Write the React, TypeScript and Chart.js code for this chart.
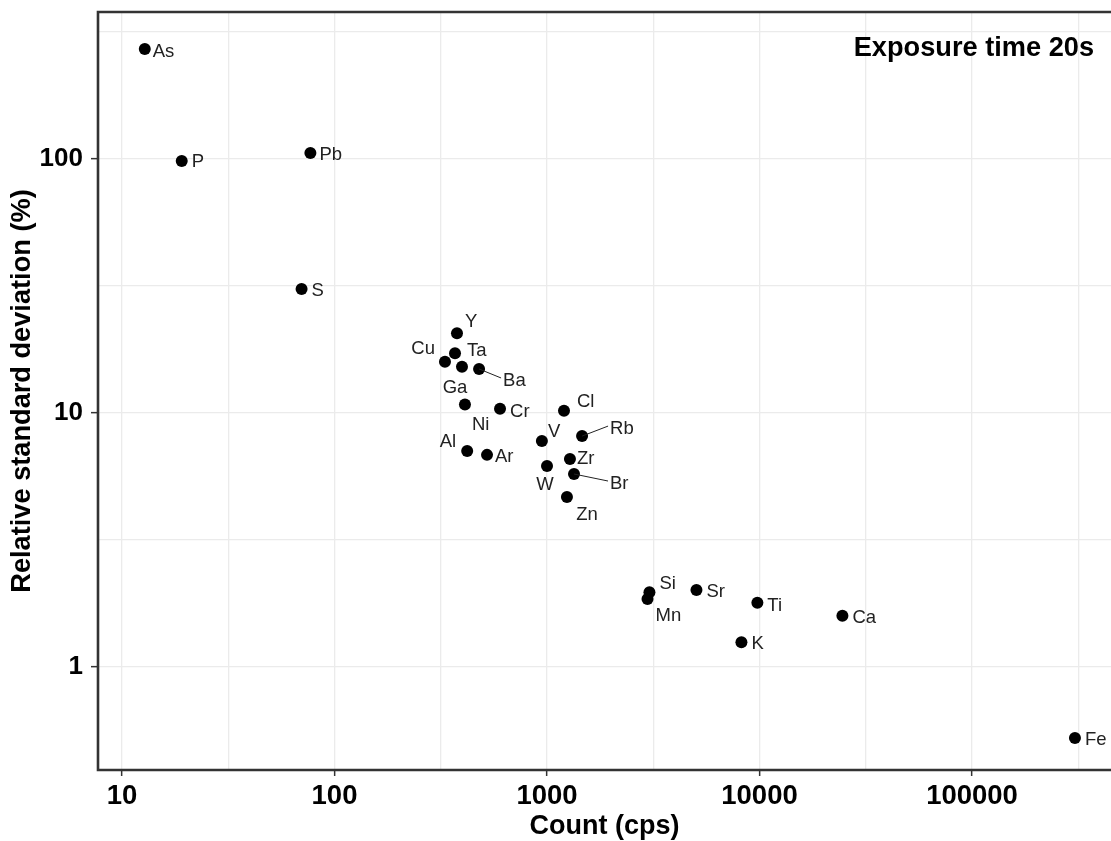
import React, { useEffect, useRef } from 'react';
import { Chart, registerables } from 'chart.js';

Chart.register(...registerables);

const elements = ['As', 'P', 'Pb', 'S', 'Y', 'Ta', 'Cu', 'Ga', 'Ba', 'Ni', 'Cr', 'Cl', 'V', 'Rb', 'Al', 'Ar', 'Zr', 'W', 'Br', 'Zn', 'Si', 'Mn', 'Sr', 'Ti', 'K', 'Ca', 'Fe'];
const counts = [12.8, 19.1, 77, 70, 377, 369, 331, 398, 479, 411, 601, 1202, 946, 1462, 421, 522, 1282, 1000, 1340, 1241, 3034, 2971, 5050, 9770, 8220, 24550, 305000];
const rsd = [271, 98.2, 105.6, 30.8, 20.6, 17.2, 15.9, 15.2, 14.9, 10.8, 10.4, 10.2, 7.76, 8.11, 7.08, 6.84, 6.59, 6.18, 5.75, 4.67, 1.97, 1.85, 2.01, 1.79, 1.25, 1.59, 0.525];

const xMajorTicks = [10, 100, 1000, 10000, 100000];
const xMinorTicks = [31.6228, 316.228, 3162.28, 31622.8, 316228];
const yMajorTicks = [1, 10, 100];
const yMinorTicks = [3.16228, 31.6228, 316.228];

const annotationText = 'Exposure time 20s';
const xTitle = 'Count (cps)';
const yTitle = 'Relative standard deviation (%)';

// label placement relative to its point: [dx, dy, align, leader line]
const labelLayout: Record<string, [number, number, CanvasTextAlign, boolean]> = {
  As: [8, 3, 'left', false],
  P: [10, 1, 'left', false],
  Pb: [9, 2, 'left', false],
  S: [10, 2, 'left', false],
  Y: [8, -11, 'left', false],
  Ta: [12, -2, 'left', false],
  Cu: [-10, -13, 'right', false],
  Ga: [-7, 21, 'center', false],
  Ba: [24, 12, 'left', true],
  Ni: [7, 20, 'left', false],
  Cr: [10, 3, 'left', false],
  Cl: [13, -9, 'left', false],
  V: [6, -9, 'left', false],
  Rb: [28, -7, 'left', true],
  Al: [-11, -9, 'right', false],
  Ar: [8, 2, 'left', false],
  Zr: [7, 0, 'left', false],
  W: [-2, 19, 'center', false],
  Br: [36, 10, 'left', true],
  Zn: [20, 18, 'center', false],
  Si: [10, -8, 'left', false],
  Mn: [8, 17, 'left', false],
  Sr: [10, 2, 'left', false],
  Ti: [10, 3, 'left', false],
  Ca: [10, 2, 'left', false],
  K: [10, 2, 'left', false],
  Fe: [10, 2, 'left', false],
};

const FONT = '"Liberation Sans", Arial, sans-serif';
const isIn = (arr: number[], v: number) => arr.some((a) => Math.abs(a - v) / a < 1e-6);

export default function App() {
  const ref = useRef<HTMLCanvasElement>(null);

  useEffect(() => {
    document.body.style.margin = '0';
    document.body.style.overflow = 'hidden';
    const canvas = ref.current!;

    const framePlugin = {
      id: 'frame',
      beforeDatasetsDraw(chart: any) {
        const { ctx, chartArea } = chart;
        ctx.save();
        ctx.strokeStyle = '#333333';
        ctx.lineWidth = 2.6;
        ctx.beginPath();
        ctx.moveTo(chartArea.right + 5, chartArea.top);
        ctx.lineTo(chartArea.left, chartArea.top);
        ctx.lineTo(chartArea.left, chartArea.bottom);
        ctx.lineTo(chartArea.right + 5, chartArea.bottom);
        ctx.stroke();
        ctx.restore();
      },
    };

    const labelPlugin = {
      id: 'pointLabels',
      afterDatasetsDraw(chart: any) {
        const { ctx, chartArea } = chart;
        const meta = chart.getDatasetMeta(0);
        ctx.save();
        ctx.font = `18.5px ${FONT}`;
        ctx.textBaseline = 'middle';
        meta.data.forEach((pt: any, i: number) => {
          const name = elements[i];
          const [dx, dy, align, leader] = labelLayout[name];
          const tx = pt.x + dx;
          const ty = pt.y + dy;
          if (leader) {
            ctx.strokeStyle = '#222222';
            ctx.lineWidth = 1;
            ctx.beginPath();
            ctx.moveTo(pt.x, pt.y);
            ctx.lineTo(tx - 2, ty - 3);
            ctx.stroke();
          }
          ctx.fillStyle = '#222222';
          ctx.textAlign = align;
          ctx.fillText(name, tx, ty);
        });
        ctx.font = `bold 27.2px ${FONT}`;
        ctx.fillStyle = '#000000';
        ctx.textAlign = 'right';
        ctx.textBaseline = 'alphabetic';
        ctx.fillText(annotationText, 1094, chartArea.top + 44);
        ctx.restore();
      },
    };

    const gridColor = '#ebebeb';

    const chart = new Chart(canvas, {
      type: 'scatter',
      data: {
        datasets: [
          {
            data: counts.map((c, i) => ({ x: c, y: rsd[i] })),
            backgroundColor: '#000000',
            borderWidth: 0,
            pointRadius: 6,
            pointHoverRadius: 6,
            clip: false,
          },
        ],
      },
      options: {
        responsive: false,
        animation: false,
        devicePixelRatio: 1,
        events: [],
        layout: { autoPadding: false, padding: { top: 12, left: 0, right: 0, bottom: 0 } },
        plugins: { legend: { display: false }, tooltip: { enabled: false } },
        scales: {
          x: {
            type: 'logarithmic',
            min: 7.71,
            max: 450800,
            afterBuildTicks: (s: any) => {
              s.ticks = [...xMajorTicks, ...xMinorTicks].sort((a, b) => a - b).map((v) => ({ value: v }));
            },
            afterFit: (s: any) => {
              s.height = 71;
              s.paddingLeft = 0;
              s.paddingRight = 0;
            },
            border: { display: false },
            grid: {
              color: gridColor,
              lineWidth: 1.3,
              drawTicks: true,
              tickLength: 6,
              tickWidth: 1.5,
              tickColor: (c: any) => (isIn(xMajorTicks, c.tick?.value) ? '#333333' : 'rgba(0,0,0,0)'),
            },
            ticks: {
              autoSkip: false,
              maxRotation: 0,
              padding: 4,
              color: '#000000',
              font: { family: FONT, size: 27.5, weight: 'bold' },
              callback: (v: any) => (isIn(xMajorTicks, Number(v)) ? String(Math.round(Number(v))) : ''),
            },
            title: {
              display: true,
              text: xTitle,
              color: '#000000',
              font: { family: FONT, size: 27, weight: 'bold', lineHeight: 1 },
              padding: { top: 0, bottom: 1 },
            },
          },
          y: {
            type: 'logarithmic',
            min: 0.393,
            max: 379,
            afterBuildTicks: (s: any) => {
              s.ticks = [...yMajorTicks, ...yMinorTicks].sort((a, b) => a - b).map((v) => ({ value: v }));
            },
            afterFit: (s: any) => {
              s.width = 98;
              s.paddingTop = 0;
              s.paddingBottom = 0;
            },
            border: { display: false },
            grid: {
              color: gridColor,
              lineWidth: 1.3,
              drawTicks: true,
              tickLength: 7,
              tickWidth: 1.5,
              tickColor: (c: any) => (isIn(yMajorTicks, c.tick?.value) ? '#333333' : 'rgba(0,0,0,0)'),
            },
            ticks: {
              autoSkip: false,
              padding: 8,
              color: '#000000',
              font: { family: FONT, size: 26, weight: 'bold' },
              callback: (v: any) => (isIn(yMajorTicks, Number(v)) ? String(Math.round(Number(v))) : ''),
            },
            title: {
              display: true,
              text: yTitle,
              color: '#000000',
              font: { family: FONT, size: 27.2, weight: 'bold', lineHeight: 1 },
              padding: { top: 9, bottom: 0 },
            },
          },
        },
      },
      plugins: [framePlugin, labelPlugin],
    } as any);

    return () => chart.destroy();
  }, []);

  return <canvas ref={ref} width={1111} height={841} style={{ display: 'block' }} />;
}
